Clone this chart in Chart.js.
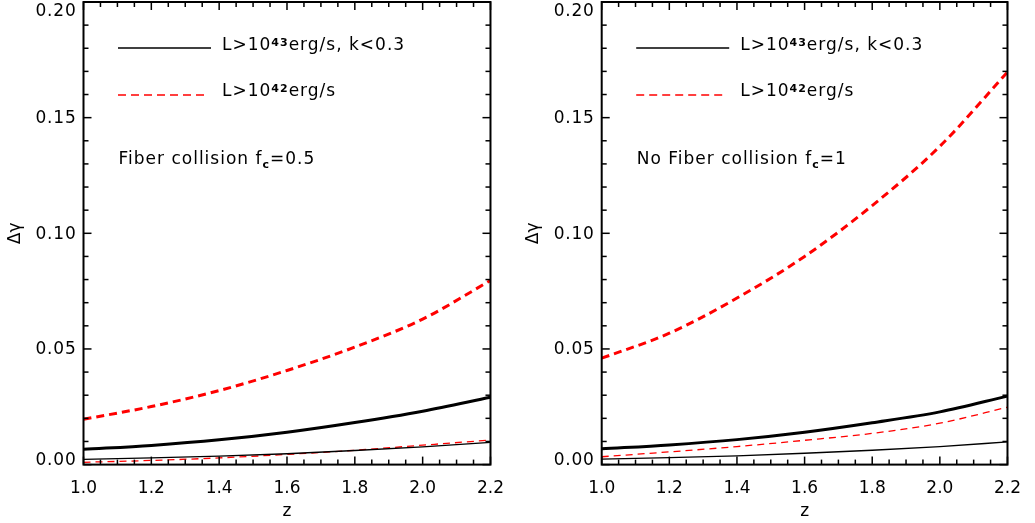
<!DOCTYPE html>
<html>
<head>
<meta charset="utf-8">
<script src="https://cdn.jsdelivr.net/npm/chart.js@4.4.1/dist/chart.umd.min.js"></script>
<style>
  html, body { margin: 0; padding: 0; background: #fff; }
  .panel { position: absolute; top: 0; height: 523px; }
  #left { left: 0; width: 518px; }
  #right { left: 518px; width: 517px; }
</style>
</head>
<body>
<div class="panel" id="left"><canvas id="chartLeft"></canvas></div>
<div class="panel" id="right"><canvas id="chartRight"></canvas></div>
<script>
// redshift grid shared by every curve
const redshifts = [1.0, 1.2, 1.4, 1.6, 1.8, 2.0, 2.2];
const yTickValues = [0, 0.05, 0.10, 0.15, 0.20];

// left panel: fiber collision, f_c = 0.5
const fiberBrightThick = [0.0066, 0.0083, 0.0107, 0.0140, 0.0182, 0.0231, 0.0291];
const fiberBrightThin  = [0.0023, 0.0029, 0.0037, 0.0047, 0.0061, 0.0077, 0.0096];
const fiberFaintThick  = [0.0196, 0.0251, 0.0320, 0.0407, 0.0508, 0.0629, 0.0796];
const fiberFaintThin   = [0.0010, 0.0018, 0.0029, 0.0044, 0.0062, 0.0084, 0.0106];

// right panel: no fiber collision, f_c = 1
const noFiberBrightThick = [0.0068, 0.0085, 0.0108, 0.0140, 0.0181, 0.0228, 0.0296];
const noFiberBrightThin  = [0.0024, 0.0030, 0.0038, 0.0049, 0.0062, 0.0078, 0.0098];
const noFiberFaintThick  = [0.0460, 0.0568, 0.0720, 0.0900, 0.1120, 0.1376, 0.1697];
const noFiberFaintThin   = [0.0034, 0.0055, 0.0078, 0.0105, 0.0135, 0.0179, 0.0248];

// legend / note text pieces: [normal, script, normal]
const legendBright = ['L>10', '43', 'erg/s, k<0.3'];
const legendFaint = ['L>10', '42', 'erg/s'];
const noteLeft = ['Fiber collision f', 'c', '=0.5'];
const noteRight = ['No Fiber collision f', 'c', '=1'];

const FONT = 'DejaVu Sans';
const RED = '#ff0000';

Chart.defaults.font.family = FONT;
Chart.defaults.font.size = 17;
Chart.defaults.color = '#000';

function pairs(values) {
  return redshifts.map((z, i) => ({ x: z, y: values[i] }));
}

function line(ctx, x1, y1, x2, y2) {
  ctx.beginPath();
  ctx.moveTo(x1, y1);
  ctx.lineTo(x2, y2);
  ctx.stroke();
}

// text with a superscript (sup = true) or subscript in the middle piece
function drawRich(ctx, parts, x, y, sup) {
  ctx.textBaseline = 'alphabetic';
  ctx.textAlign = 'left';
  ctx.letterSpacing = '1px';
  ctx.font = '17px "' + FONT + '"';
  ctx.fillText(parts[0], x, y);
  x += ctx.measureText(parts[0]).width;
  ctx.font = 'bold 11px "' + FONT + '"';
  ctx.fillText(parts[1], x, sup ? y - 4 : y + 4);
  x += ctx.measureText(parts[1]).width;
  ctx.font = '17px "' + FONT + '"';
  ctx.fillText(parts[2], x, y);
}

const framePlugin = {
  id: 'frame',
  afterDatasetsDraw(chart, args, opts) {
    const { ctx, chartArea: a, scales: { x, y } } = chart;
    ctx.save();
    ctx.strokeStyle = '#000';
    ctx.fillStyle = '#000';
    ctx.lineWidth = 1.5;

    // inward ticks on all four sides
    for (let i = 0; i <= 20; i++) {
      const py = y.getPixelForValue(i * 0.01);
      const len = i % 5 === 0 ? 8 : 5;
      line(ctx, a.left, py, a.left + len, py);
      line(ctx, a.right, py, a.right - len, py);
    }
    for (let i = 0; i <= 24; i++) {
      const px = x.getPixelForValue(1 + i * 0.05);
      const len = i % 4 === 0 ? 8 : 5;
      line(ctx, px, a.bottom, px, a.bottom - len);
      line(ctx, px, a.top, px, a.top + len);
    }

    ctx.lineWidth = 2;
    ctx.strokeRect(a.left, a.top, a.right - a.left, a.bottom - a.top);

    // y tick labels, kept inside the frame height
    ctx.font = '17px "' + FONT + '"';
    ctx.letterSpacing = '0.8px';
    ctx.textAlign = 'right';
    ctx.textBaseline = 'middle';
    y.ticks.forEach(t => {
      const py = Math.min(Math.max(y.getPixelForValue(t.value), a.top + 8.5), a.bottom - 5.5);
      ctx.fillText(t.value.toFixed(2), a.left - 7, py + 1);
    });

    // legend
    ctx.lineWidth = 1.3;
    line(ctx, a.left + 34.5, a.top + 46, a.left + 127.5, a.top + 46);
    drawRich(ctx, legendBright, a.left + 138.5, a.top + 48, true);
    ctx.strokeStyle = RED;
    ctx.setLineDash([8, 5]);
    line(ctx, a.left + 34.5, a.top + 93, a.left + 125, a.top + 93);
    ctx.setLineDash([]);
    drawRich(ctx, legendFaint, a.left + 138.5, a.top + 94, true);

    drawRich(ctx, opts.note, a.left + 35, a.top + 162, false);
    ctx.restore();
  }
};

function makeChart(id, series, note, axisWidth, padRight) {
  const common = { fill: false, pointRadius: 0, cubicInterpolationMode: 'monotone' };
  new Chart(document.getElementById(id), {
    type: 'line',
    data: {
      datasets: [
        { ...common, data: pairs(series[0]), borderColor: '#000', borderWidth: 3 },
        { ...common, data: pairs(series[1]), borderColor: '#000', borderWidth: 1.3 },
        { ...common, data: pairs(series[2]), borderColor: RED, borderWidth: 3, borderDash: [8, 5] },
        { ...common, data: pairs(series[3]), borderColor: RED, borderWidth: 1.3, borderDash: [7, 5] }
      ]
    },
    options: {
      responsive: true,
      maintainAspectRatio: false,
      animation: false,
      layout: { padding: { top: 2, right: padRight, bottom: 0, left: 0 } },
      plugins: { legend: { display: false }, tooltip: { enabled: false }, frame: { note: note } },
      scales: {
        x: {
          type: 'linear',
          min: 1.0,
          max: 2.2,
          grid: { display: false, drawTicks: false },
          border: { display: false },
          ticks: { stepSize: 0.2, padding: 14, maxRotation: 0, callback: v => v.toFixed(1) },
          title: { display: true, text: 'z', padding: { top: 0, bottom: 1 } },
          afterFit(s) { s.height = 58.4; }
        },
        y: {
          min: 0,
          max: 0.2,
          grid: { display: false, drawTicks: false },
          border: { display: false },
          ticks: { display: false, stepSize: 0.05 },
          afterBuildTicks(s) { s.ticks = yTickValues.map(v => ({ value: v })); },
          title: { display: true, text: 'Δγ', padding: { top: 5, bottom: 0 } },
          afterFit(s) { s.width = axisWidth; }
        }
      }
    },
    plugins: [framePlugin]
  });
}

makeChart('chartLeft', [fiberBrightThick, fiberBrightThin, fiberFaintThick, fiberFaintThin], noteLeft, 83.5, 19.7);
makeChart('chartRight', [noFiberBrightThick, noFiberBrightThin, noFiberFaintThick, noFiberFaintThin], noteRight, 83.7, 19.3);
</script>
</body>
</html>
